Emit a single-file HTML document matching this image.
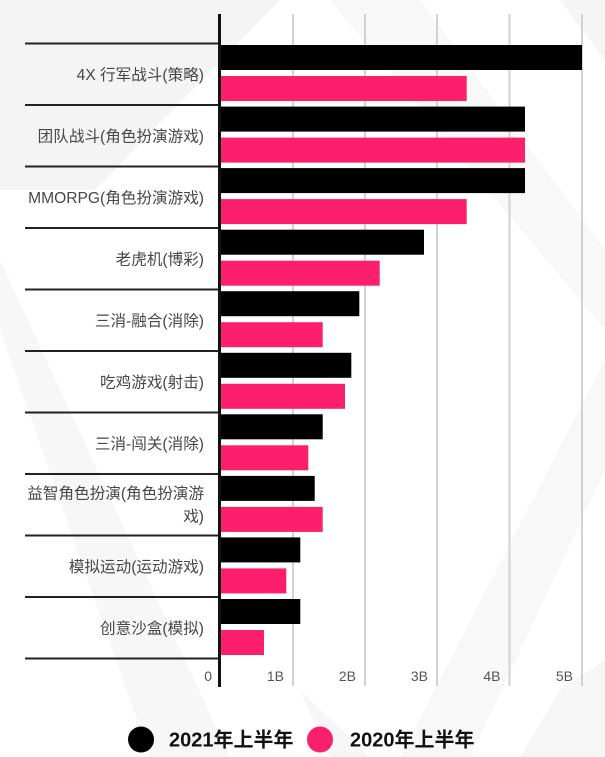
<!DOCTYPE html>
<html><head><meta charset="utf-8">
<style>
html,body{margin:0;padding:0;background:#fff;}
body{width:605px;height:757px;overflow:hidden;}
svg{display:block;}
.lbl{font-family:"Liberation Sans","Noto Sans CJK SC",sans-serif;font-size:15.6px;fill:#474747;}
.tk{font-family:"Liberation Sans","Noto Sans CJK SC",sans-serif;font-size:14px;fill:#555;}
.lg{font-family:"Liberation Sans","Noto Sans CJK SC",sans-serif;font-size:20px;font-weight:bold;fill:#111;}
</style></head>
<body>
<svg width="605" height="757" viewBox="0 0 605 757" xmlns="http://www.w3.org/2000/svg">
<rect width="605" height="757" fill="#fff"/>
<!-- faint background shapes -->
<polygon points="0,0 280,0 95,190 0,190" fill="#f4f4f4"/>
<polygon points="0,260 0,330 150,757 230,757" fill="#f7f7f7"/>
<polygon points="330,0 420,0 605,250 605,330" fill="#f8f8f8"/>
<polygon points="560,0 605,0 605,60" fill="#f5f5f5"/>
<polygon points="605,360 605,470 470,757 400,757" fill="#f8f8f8"/>
<polygon points="300,690 370,757 330,757" fill="#f6f6f6"/>
<polygon points="560,690 605,660 605,757 520,757" fill="#f6f6f6"/>

<!-- gridlines -->
<g stroke="#d2d2d2" stroke-width="2">
<line x1="293" y1="14" x2="293" y2="686"/>
<line x1="365" y1="14" x2="365" y2="686"/>
<line x1="437" y1="14" x2="437" y2="686"/>
<line x1="509.5" y1="14" x2="509.5" y2="686"/>
<line x1="582" y1="14" x2="582" y2="686"/>
</g>

<!-- category separators -->
<g stroke="#222" stroke-width="2">
<line x1="25" y1="43.5" x2="219" y2="43.5"/>
<line x1="25" y1="105" x2="219" y2="105"/>
<line x1="25" y1="166.5" x2="219" y2="166.5"/>
<line x1="25" y1="228" x2="219" y2="228"/>
<line x1="25" y1="289.5" x2="219" y2="289.5"/>
<line x1="25" y1="351" x2="219" y2="351"/>
<line x1="25" y1="412.5" x2="219" y2="412.5"/>
<line x1="25" y1="474" x2="219" y2="474"/>
<line x1="25" y1="535.5" x2="219" y2="535.5"/>
<line x1="25" y1="597" x2="219" y2="597"/>
<line x1="25" y1="658.5" x2="219" y2="658.5"/>
</g>

<!-- bars -->
<g>
<rect x="221" y="45" width="361" height="25" fill="#000"/>
<rect x="221" y="76" width="245.7" height="25" fill="#fe1f6c"/>

<rect x="221" y="106.6" width="304" height="25" fill="#000"/>
<rect x="221" y="137.6" width="304" height="25" fill="#fe1f6c"/>

<rect x="221" y="168.1" width="304" height="25" fill="#000"/>
<rect x="221" y="199.1" width="245.7" height="25" fill="#fe1f6c"/>

<rect x="221" y="229.7" width="203" height="25" fill="#000"/>
<rect x="221" y="260.7" width="158.7" height="25" fill="#fe1f6c"/>

<rect x="221" y="291.2" width="138.3" height="25" fill="#000"/>
<rect x="221" y="322.2" width="101.7" height="25" fill="#fe1f6c"/>

<rect x="221" y="352.8" width="130.3" height="25" fill="#000"/>
<rect x="221" y="383.8" width="124" height="25" fill="#fe1f6c"/>

<rect x="221" y="414.3" width="101.7" height="25" fill="#000"/>
<rect x="221" y="445.3" width="87.3" height="25" fill="#fe1f6c"/>

<rect x="221" y="475.9" width="93.7" height="25" fill="#000"/>
<rect x="221" y="506.9" width="101.7" height="25" fill="#fe1f6c"/>

<rect x="221" y="537.4" width="79.3" height="25" fill="#000"/>
<rect x="221" y="568.4" width="65.3" height="25" fill="#fe1f6c"/>

<rect x="221" y="599" width="79.3" height="25" fill="#000"/>
<rect x="221" y="630" width="43" height="25" fill="#fe1f6c"/>
</g>

<!-- axis line -->
<line x1="219.5" y1="14" x2="219.5" y2="687" stroke="#111" stroke-width="3"/>

<!-- labels -->
<g class="lbl" text-anchor="end">
<text x="204" y="80">4X 行军战斗(策略)</text>
<text x="204" y="141.5">团队战斗(角色扮演游戏)</text>
<text x="204" y="203">MMORPG(角色扮演游戏)</text>
<text x="204" y="264.5">老虎机(博彩)</text>
<text x="204" y="326">三消-融合(消除)</text>
<text x="204" y="387.5">吃鸡游戏(射击)</text>
<text x="204" y="449">三消-闯关(消除)</text>
<text x="204" y="498.5">益智角色扮演(角色扮演游</text>
<text x="204" y="521.5">戏)</text>
<text x="204" y="572">模拟运动(运动游戏)</text>
<text x="204" y="633.5">创意沙盒(模拟)</text>
</g>

<!-- tick labels -->
<g class="tk" text-anchor="end">
<text x="212" y="681">0</text>
<text x="284" y="681">1B</text>
<text x="356" y="681">2B</text>
<text x="428" y="681">3B</text>
<text x="500.5" y="681">4B</text>
<text x="573" y="681">5B</text>
</g>

<!-- legend -->
<circle cx="141" cy="739.5" r="13" fill="#000"/>
<text class="lg" x="169" y="746.5">2021年上半年</text>
<circle cx="320" cy="739.5" r="13" fill="#fe1f6c"/>
<text class="lg" x="350" y="746.5">2020年上半年</text>
</svg>
</body></html>
